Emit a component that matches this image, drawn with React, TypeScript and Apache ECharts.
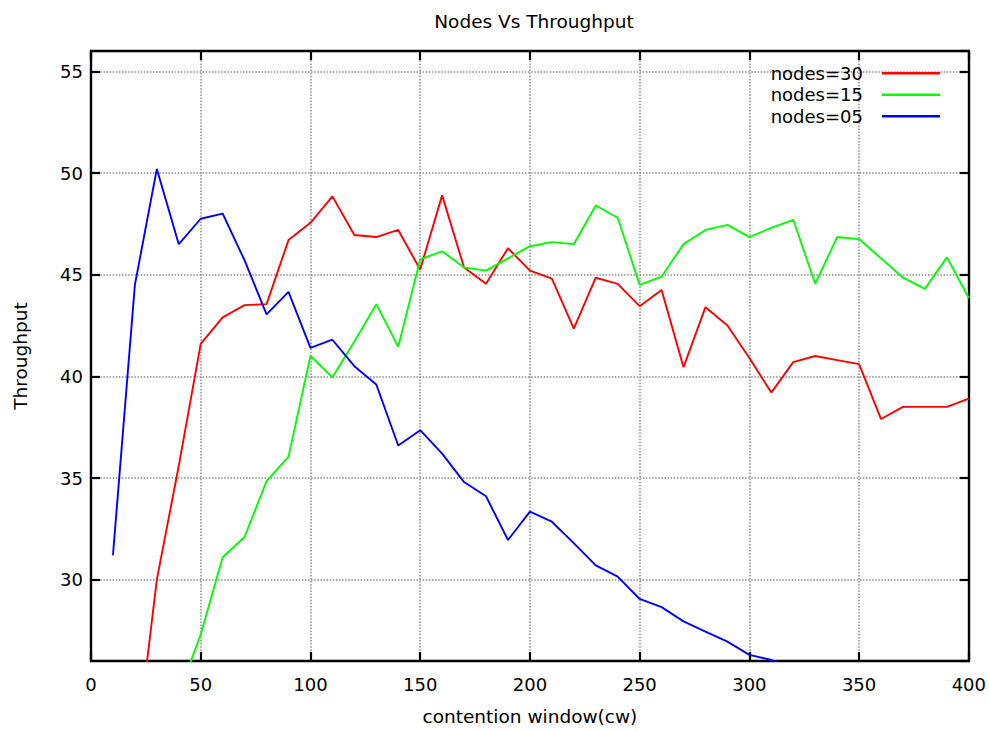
import React, { useEffect, useRef } from "react";
import * as echarts from "echarts";

const chartTitle = "Nodes Vs Throughput";
const xName = "contention window(cw)";
const yName = "Throughput";
const seriesNames = ["nodes=30", "nodes=15", "nodes=05"];
const seriesColors = ["#ff0000", "#00ff00", "#0000ff"];

const redX = [20, 30, 40, 50, 60, 70, 80, 90, 100, 110, 120, 130, 140, 150, 160, 170, 180, 190, 200, 210, 220, 230, 240, 250, 260, 270, 280, 290, 300, 310, 320, 330, 340, 350, 360, 370, 380, 390, 400];
const redY = [21.0, 30.0, 35.6, 41.6, 42.9, 43.5, 43.55, 46.7, 47.55, 48.85, 46.95, 46.85, 47.2, 45.25, 48.9, 45.35, 44.55, 46.3, 45.2, 44.8, 42.35, 44.85, 44.55, 43.45, 44.25, 40.45, 43.4, 42.5, 40.9, 39.2, 40.7, 41.0, 40.8, 40.6, 37.9, 38.5, 38.5, 38.5, 38.9];

const greenX = [40, 50, 60, 70, 80, 90, 100, 110, 120, 130, 140, 150, 160, 170, 180, 190, 200, 210, 220, 230, 240, 250, 260, 270, 280, 290, 300, 310, 320, 330, 340, 350, 360, 370, 380, 390, 400];
const greenY = [24.4, 27.3, 31.1, 32.1, 34.85, 36.05, 41.0, 39.95, 41.7, 43.55, 41.45, 45.75, 46.15, 45.35, 45.2, 45.8, 46.4, 46.6, 46.5, 48.4, 47.8, 44.5, 44.9, 46.5, 47.2, 47.45, 46.85, 47.3, 47.7, 44.55, 46.85, 46.75, 45.8, 44.85, 44.3, 45.85, 43.85];

const blueX = [10, 20, 30, 40, 50, 60, 70, 80, 90, 100, 110, 120, 130, 140, 150, 160, 170, 180, 190, 200, 210, 220, 230, 240, 250, 260, 270, 280, 290, 300, 310, 320];
const blueY = [31.2, 44.5, 50.2, 46.5, 47.75, 48.0, 45.7, 43.05, 44.15, 41.4, 41.8, 40.5, 39.6, 36.6, 37.35, 36.2, 34.8, 34.1, 31.95, 33.35, 32.85, 31.8, 30.7, 30.15, 29.05, 28.65, 27.95, 27.45, 26.95, 26.3, 26.05, 25.6];

const xMin = 0;
const xMax = 400;
const xStep = 50;
const yMin = 26;
const yMax = 56;
const yStep = 5;

const FONT = "DejaVu Sans";

function pairs(xs: number[], ys: number[]) {
  return xs.map((x, i) => [x, ys[i]]);
}

export default function App() {
  const ref = useRef<HTMLDivElement>(null);
  useEffect(() => {
    if (!ref.current) return;
    const chart = echarts.init(ref.current, undefined, { renderer: "svg" });
    const frameLine = { show: true, onZero: false, lineStyle: { color: "#000", width: 2.4 } };
    const tick = { show: true, inside: true, length: 9, lineStyle: { color: "#000", width: 2.2 } };
    const grid = { show: true, lineStyle: { color: "#8a8a8a", width: 1.5, type: [1.5, 1.6] as any } };
    const yLabelFmt = (v: number) => (v % yStep === 0 ? String(v) : "");
    const option: any = {
      animation: false,
      backgroundColor: "#fff",
      title: {
        text: chartTitle,
        left: 529,
        textAlign: "center",
        top: 7,
        textStyle: { fontFamily: FONT, fontSize: 18.5, fontWeight: "normal", color: "#000" },
      },
      legend: {
        orient: "vertical",
        right: 44,
        top: 59,
        align: "right",
        icon: "rect",
        itemWidth: 58,
        itemHeight: 2.4,
        itemGap: 3,
        data: seriesNames,
        textStyle: { fontFamily: FONT, fontSize: 18, color: "#000", lineHeight: 18.5, padding: [0, 14, 0, 0] },
      },
      grid: { left: 91, right: 20, top: 51, bottom: 65, containLabel: false },
      xAxis: [
        {
          type: "value",
          position: "bottom",
          min: xMin,
          max: xMax,
          interval: xStep,
          name: xName,
          nameLocation: "middle",
          nameGap: 46,
          nameTextStyle: { fontFamily: FONT, fontSize: 18.5, color: "#000" },
          axisLine: frameLine,
          axisTick: tick,
          axisLabel: { fontFamily: FONT, fontSize: 18, color: "#000", margin: 14 },
          splitLine: grid,
        },
        {
          type: "value",
          position: "top",
          min: xMin,
          max: xMax,
          interval: xStep,
          axisLine: frameLine,
          axisTick: tick,
          axisLabel: { show: false },
          splitLine: { show: false },
        },
      ],
      yAxis: [
        {
          type: "value",
          position: "left",
          min: yMin,
          max: yMax,
          splitNumber: 6,
          minInterval: yStep,
          maxInterval: yStep,
          name: yName,
          nameLocation: "middle",
          nameGap: 61,
          nameTextStyle: { fontFamily: FONT, fontSize: 18.5, color: "#000" },
          axisLine: frameLine,
          axisTick: tick,
          axisLabel: { fontFamily: FONT, fontSize: 18, color: "#000", margin: 8, formatter: yLabelFmt, showMinLabel: false, showMaxLabel: false },
          splitLine: grid,
        },
        {
          type: "value",
          position: "right",
          min: yMin,
          max: yMax,
          splitNumber: 6,
          minInterval: yStep,
          maxInterval: yStep,
          axisLine: frameLine,
          axisTick: tick,
          axisLabel: { show: false },
          splitLine: { show: false },
        },
      ],
      series: [
        { xs: redX, ys: redY },
        { xs: greenX, ys: greenY },
        { xs: blueX, ys: blueY },
      ].map((s, i) => ({
        name: seriesNames[i],
        type: "line",
        xAxisIndex: 0,
        yAxisIndex: 0,
        data: pairs(s.xs, s.ys),
        showSymbol: false,
        symbol: "none",
        clip: true,
        color: seriesColors[i],
        lineStyle: { color: seriesColors[i], width: 1.9 },
      })),
    };
    chart.setOption(option);
    return () => chart.dispose();
  }, []);
  return <div ref={ref} style={{ width: 989, height: 731, position: "absolute", left: 0, top: 0 }} />;
}
